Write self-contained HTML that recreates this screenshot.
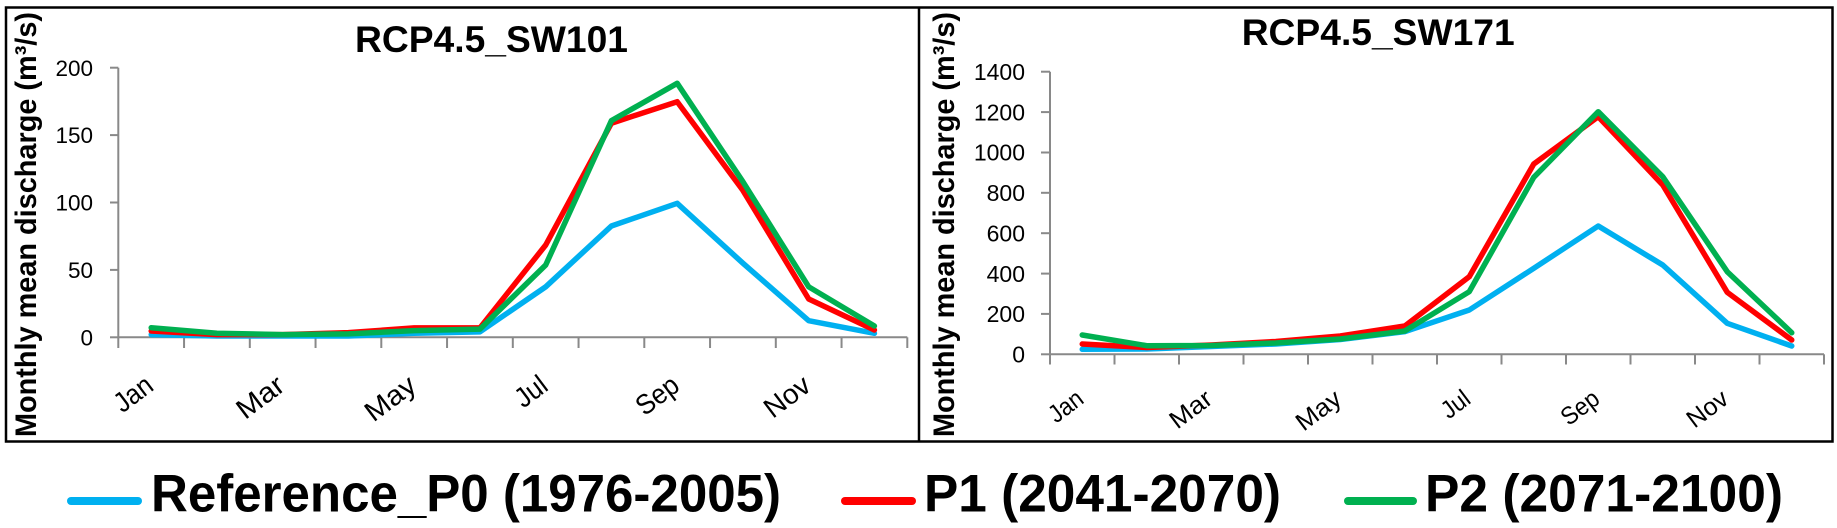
<!DOCTYPE html>
<html>
<head>
<meta charset="utf-8">
<style>
  html, body { margin:0; padding:0; background:#fff; }
  svg { display:block; }
  text { font-family: "Liberation Sans", Arial, sans-serif; }
</style>
</head>
<body>
<svg width="1837" height="528" viewBox="0 0 1837 528" xmlns="http://www.w3.org/2000/svg">
  <rect x="0" y="0" width="1837" height="528" fill="#fff"/>
  <!-- outer frame -->
  <rect x="6" y="7.5" width="1826.5" height="434" fill="none" stroke="#000" stroke-width="2.5"/>
  <line x1="919" y1="7.5" x2="919" y2="441.5" stroke="#000" stroke-width="2.5"/>

  <!-- ============ LEFT CHART ============ -->
  <text x="355" y="52" font-size="37.5" font-weight="bold" textLength="273" lengthAdjust="spacingAndGlyphs">RCP4.5_SW101</text>
  <text transform="translate(36,224.5) rotate(-90)" text-anchor="middle" font-size="30" font-weight="bold" textLength="425" lengthAdjust="spacingAndGlyphs">Monthly mean discharge (m³/s)</text>

  <g stroke="#898989" stroke-width="2" fill="none">
    <line x1="118.3" y1="67.7" x2="118.3" y2="337.3"/>
    <line x1="110" y1="67.7" x2="118.3" y2="67.7"/>
    <line x1="110" y1="135.1" x2="118.3" y2="135.1"/>
    <line x1="110" y1="202.5" x2="118.3" y2="202.5"/>
    <line x1="110" y1="269.9" x2="118.3" y2="269.9"/>
    <line x1="110" y1="337.3" x2="118.3" y2="337.3"/>
    <line x1="118.3" y1="337.3" x2="907.3" y2="337.3"/>
    <line x1="118.3" y1="337.3" x2="118.3" y2="348"/>
    <line x1="184.05" y1="337.3" x2="184.05" y2="348"/>
    <line x1="249.8" y1="337.3" x2="249.8" y2="348"/>
    <line x1="315.55" y1="337.3" x2="315.55" y2="348"/>
    <line x1="381.3" y1="337.3" x2="381.3" y2="348"/>
    <line x1="447.05" y1="337.3" x2="447.05" y2="348"/>
    <line x1="512.8" y1="337.3" x2="512.8" y2="348"/>
    <line x1="578.55" y1="337.3" x2="578.55" y2="348"/>
    <line x1="644.3" y1="337.3" x2="644.3" y2="348"/>
    <line x1="710.05" y1="337.3" x2="710.05" y2="348"/>
    <line x1="775.8" y1="337.3" x2="775.8" y2="348"/>
    <line x1="841.55" y1="337.3" x2="841.55" y2="348"/>
    <line x1="907.3" y1="337.3" x2="907.3" y2="348"/>
  </g>
  <g font-size="22.5" text-anchor="end" fill="#000">
    <text x="93" y="75.8">200</text>
    <text x="93" y="143.2">150</text>
    <text x="93" y="210.6">100</text>
    <text x="93" y="278">50</text>
    <text x="93" y="345.4">0</text>
  </g>
  <g font-size="28" text-anchor="end" fill="#000">
    <text transform="translate(155.2,389) rotate(-37)" textLength="41" lengthAdjust="spacingAndGlyphs">Jan</text>
    <text transform="translate(286.7,389) rotate(-37)" textLength="52" lengthAdjust="spacingAndGlyphs">Mar</text>
    <text transform="translate(418.2,389) rotate(-37)" textLength="56" lengthAdjust="spacingAndGlyphs">May</text>
    <text transform="translate(549.7,389) rotate(-37)" textLength="33" lengthAdjust="spacingAndGlyphs">Jul</text>
    <text transform="translate(681.2,389) rotate(-37)" textLength="46" lengthAdjust="spacingAndGlyphs">Sep</text>
    <text transform="translate(812.7,389) rotate(-37)" textLength="50" lengthAdjust="spacingAndGlyphs">Nov</text>
  </g>
  <g fill="none" stroke-width="5.5" stroke-linejoin="round" stroke-linecap="round">
    <polyline stroke="#00B0F0" points="151.2,334.6 216.9,336 282.7,336 348.4,336 414.2,333.3 479.9,331.9 545.7,286.8 611.4,226 677.2,203.3 742.9,263.2 808.7,320.7 874.4,333.3"/>
    <polyline stroke="#FF0000" points="151.2,331 216.9,334.6 282.7,334.6 348.4,332.6 414.2,327.9 479.9,327.9 545.7,245 611.4,123.2 677.2,101.7 742.9,190.4 808.7,299 874.4,330"/>
    <polyline stroke="#00B050" points="151.2,327.7 216.9,333.3 282.7,334.6 348.4,333.9 414.2,330.6 479.9,329.1 545.7,265 611.4,120.7 677.2,83.3 742.9,181.7 808.7,286.8 874.4,326"/>
  </g>

  <!-- ============ RIGHT CHART ============ -->
  <text x="1241.7" y="45" font-size="37.5" font-weight="bold" textLength="273" lengthAdjust="spacingAndGlyphs">RCP4.5_SW171</text>
  <text transform="translate(954,224.5) rotate(-90)" text-anchor="middle" font-size="30" font-weight="bold" textLength="425" lengthAdjust="spacingAndGlyphs">Monthly mean discharge (m³/s)</text>

  <g stroke="#898989" stroke-width="2" fill="none">
    <line x1="1050" y1="71.7" x2="1050" y2="354.3"/>
    <line x1="1041" y1="71.7" x2="1050" y2="71.7"/>
    <line x1="1041" y1="112.1" x2="1050" y2="112.1"/>
    <line x1="1041" y1="152.5" x2="1050" y2="152.5"/>
    <line x1="1041" y1="192.8" x2="1050" y2="192.8"/>
    <line x1="1041" y1="233.2" x2="1050" y2="233.2"/>
    <line x1="1041" y1="273.6" x2="1050" y2="273.6"/>
    <line x1="1041" y1="313.9" x2="1050" y2="313.9"/>
    <line x1="1041" y1="354.3" x2="1050" y2="354.3"/>
    <line x1="1050" y1="354.3" x2="1824" y2="354.3"/>
    <line x1="1050" y1="354.3" x2="1050" y2="364.5"/>
    <line x1="1114.5" y1="354.3" x2="1114.5" y2="364.5"/>
    <line x1="1179" y1="354.3" x2="1179" y2="364.5"/>
    <line x1="1243.5" y1="354.3" x2="1243.5" y2="364.5"/>
    <line x1="1308" y1="354.3" x2="1308" y2="364.5"/>
    <line x1="1372.5" y1="354.3" x2="1372.5" y2="364.5"/>
    <line x1="1437" y1="354.3" x2="1437" y2="364.5"/>
    <line x1="1501.5" y1="354.3" x2="1501.5" y2="364.5"/>
    <line x1="1566" y1="354.3" x2="1566" y2="364.5"/>
    <line x1="1630.5" y1="354.3" x2="1630.5" y2="364.5"/>
    <line x1="1695" y1="354.3" x2="1695" y2="364.5"/>
    <line x1="1759.5" y1="354.3" x2="1759.5" y2="364.5"/>
    <line x1="1824" y1="354.3" x2="1824" y2="364.5"/>
  </g>
  <g font-size="23" text-anchor="end" fill="#000">
    <text x="1025" y="79.9">1400</text>
    <text x="1025" y="120.3">1200</text>
    <text x="1025" y="160.7">1000</text>
    <text x="1025" y="201">800</text>
    <text x="1025" y="241.4">600</text>
    <text x="1025" y="281.8">400</text>
    <text x="1025" y="322.1">200</text>
    <text x="1025" y="362.5">0</text>
  </g>
  <g font-size="25" text-anchor="end" fill="#000">
    <text transform="translate(1085.25,402) rotate(-37)" textLength="36.4" lengthAdjust="spacingAndGlyphs">Jan</text>
    <text transform="translate(1214.25,402) rotate(-37)" textLength="46.3" lengthAdjust="spacingAndGlyphs">Mar</text>
    <text transform="translate(1343.25,402) rotate(-37)" textLength="49.7" lengthAdjust="spacingAndGlyphs">May</text>
    <text transform="translate(1472.25,402) rotate(-37)" textLength="29.5" lengthAdjust="spacingAndGlyphs">Jul</text>
    <text transform="translate(1601.25,402) rotate(-37)" textLength="40.8" lengthAdjust="spacingAndGlyphs">Sep</text>
    <text transform="translate(1730.25,402) rotate(-37)" textLength="44.7" lengthAdjust="spacingAndGlyphs">Nov</text>
  </g>
  <g fill="none" stroke-width="5.5" stroke-linejoin="round" stroke-linecap="round">
    <polyline stroke="#00B0F0" points="1082.25,349.3 1146.75,349 1211.25,346.5 1275.75,344 1340.25,339.5 1404.75,331.7 1469.25,310 1533.75,268.3 1598.25,226 1662.75,265 1727.25,323.3 1791.75,346"/>
    <polyline stroke="#FF0000" points="1082.25,344 1146.75,347.5 1211.25,345 1275.75,341.5 1340.25,336 1404.75,326 1469.25,276.7 1533.75,164 1598.25,116.7 1662.75,185 1727.25,292.3 1791.75,340"/>
    <polyline stroke="#00B050" points="1082.25,335 1146.75,345.7 1211.25,345.5 1275.75,343 1340.25,339 1404.75,331 1469.25,291.7 1533.75,177.3 1598.25,111.7 1662.75,176.7 1727.25,271.7 1791.75,332.7"/>
  </g>

  <!-- ============ LEGEND ============ -->
  <g stroke-width="8" stroke-linecap="round">
    <line x1="71" y1="501" x2="138" y2="501" stroke="#00B0F0"/>
    <line x1="845" y1="501" x2="912" y2="501" stroke="#FF0000"/>
    <line x1="1348" y1="501" x2="1413" y2="501" stroke="#00B050"/>
  </g>
  <g font-size="53" font-weight="bold" fill="#000">
    <text x="151" y="511.7" textLength="630" lengthAdjust="spacingAndGlyphs">Reference_P0 (1976-2005)</text>
    <text x="924" y="511.7" textLength="357" lengthAdjust="spacingAndGlyphs">P1 (2041-2070)</text>
    <text x="1425" y="511.7" textLength="358" lengthAdjust="spacingAndGlyphs">P2 (2071-2100)</text>
  </g>
</svg>
</body>
</html>
